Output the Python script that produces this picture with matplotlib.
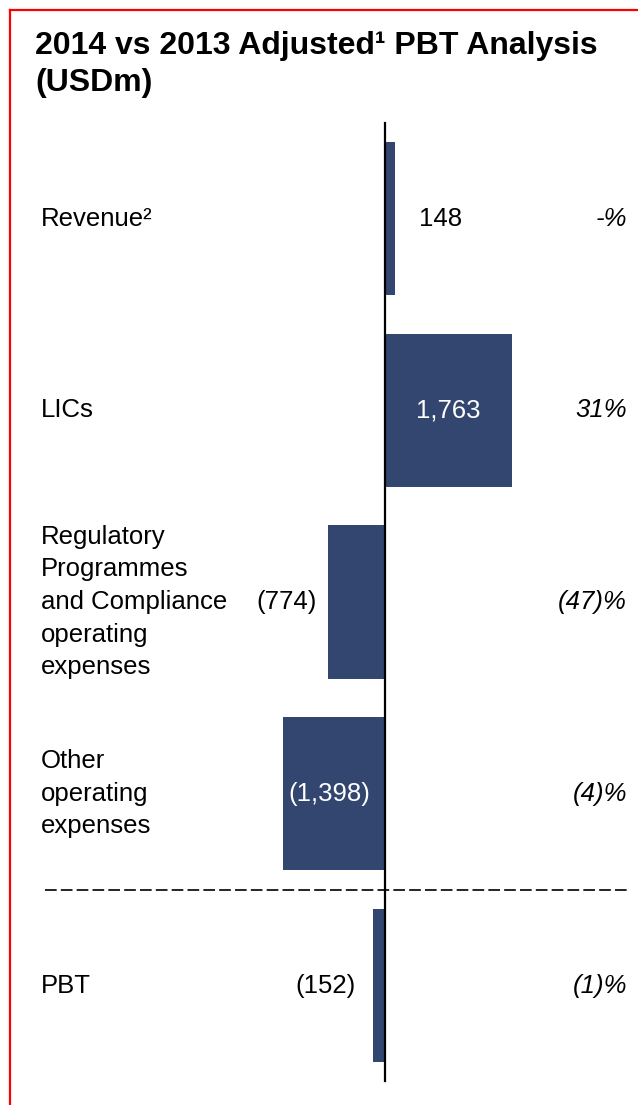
import matplotlib.pyplot as plt
from matplotlib.lines import Line2D

# Data
categories = ['Revenue\u00b2', 'LICs',
              'Regulatory\nProgrammes\nand Compliance\noperating\nexpenses',
              'Other\noperating\nexpenses', 'PBT']
values = [148, 1763, -774, -1398, -152]
value_labels = ['148', '1,763', '(774)', '(1,398)', '(152)']
pct_labels = ['-%', '31%', '(47)%', '(4)%', '(1)%']

bar_color = '#324670'
plt.rcParams['font.family'] = ['Liberation Sans', 'DejaVu Sans']

W, H = 638, 1105
fig = plt.figure(figsize=(W / 100, H / 100), dpi=100)
ax = fig.add_axes([0, 0, 1, 1])
ax.set_axis_off()

# pixel-matched scales
zero_px = 384.5
px_per_unit = 0.0726
ax.set_xlim(-zero_px / px_per_unit, (W - zero_px) / px_per_unit)
row_px = 191.75
first_px = 218.5
ax.set_ylim((H - first_px) / row_px, -first_px / row_px)

ypos = list(range(len(values)))
ax.barh(ypos, values, height=0.8, color=bar_color, zorder=2)

# zero line and separator
ax.plot([0, 0], [-0.5, 4.5], color='black', lw=1.6, zorder=3)
trans = ax.get_yaxis_transform()
ax.plot([45 / W, 628 / W], [3.5, 3.5], transform=trans, color='black',
        lw=1.2, dashes=(7, 2.5), zorder=1)

fs = 18.5
for y, cat, v, vl, pl in zip(ypos, categories, values, value_labels, pct_labels):
    ax.text(41 / W, y, cat, transform=trans, ha='left', va='center',
            fontsize=fs, linespacing=1.46)
    ax.text(627 / W, y, pl, transform=trans, ha='right', va='center',
            fontsize=fs, style='italic')
    if abs(v) > 1000:
        ax.annotate(vl, (v / 2, y), xytext=(0 if v > 0 else -4, 0),
                    textcoords='offset pixels', ha='center', va='center',
                    fontsize=fs, color='white')
    elif v > 0:
        ax.annotate(vl, (v, y), xytext=(24, 0), textcoords='offset pixels',
                    ha='left', va='center', fontsize=fs)
    else:
        ax.annotate(vl, (v, y), xytext=(-12 if v < -500 else -18, 0),
                    textcoords='offset pixels', ha='right', va='center', fontsize=fs)

# title
fig.text(35 / W, 1 - 31 / H, '2014 vs 2013 Adjusted\u00b9 PBT Analysis\n(USDm)',
         ha='left', va='top', fontsize=23, fontweight='bold', linespacing=1.32)

# red frame (open to the right and bottom)
fig.add_artist(Line2D([9.5 / W, 1], [1 - 9.5 / H, 1 - 9.5 / H], color='red', lw=1.6,
                      transform=fig.transFigure))
fig.add_artist(Line2D([9.5 / W, 9.5 / W], [0, 1 - 9.5 / H], color='red', lw=1.6,
                      transform=fig.transFigure))

plt.savefig('out.png', dpi=100)
